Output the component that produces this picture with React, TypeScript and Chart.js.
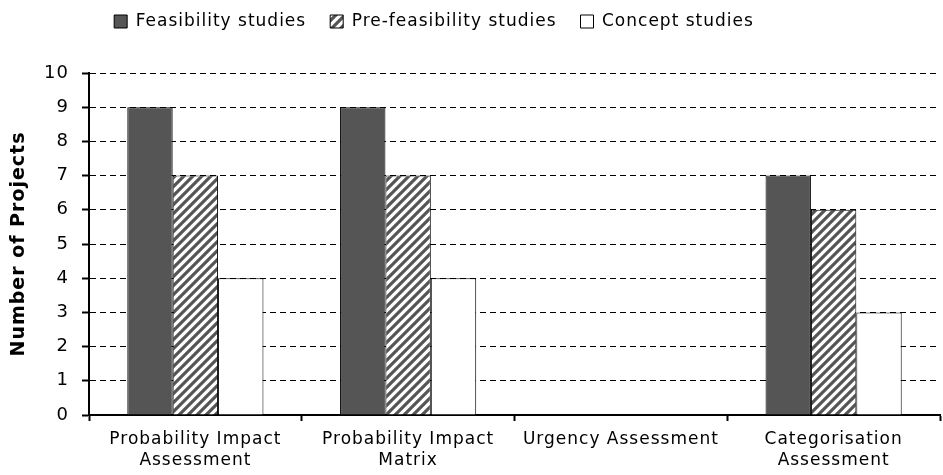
import React, { useEffect, useRef } from "react";
import { Chart, registerables } from "chart.js";

Chart.register(...registerables);

const categories: string[][] = [
  ["Probability Impact", "Assessment"],
  ["Probability Impact", "Matrix"],
  ["Urgency Assessment"],
  ["Categorisation", "Assessment"],
];
const feasibility = [9, 9, 0, 7];
const preFeasibility = [7, 7, 0, 6];
const concept = [4, 4, 0, 3];
const yTicks = [0, 1, 2, 3, 4, 5, 6, 7, 8, 9, 10];

const FONT = "'DejaVu Sans', sans-serif";

function makeHatch(): CanvasPattern | string {
  const n = 9;
  const c = document.createElement("canvas");
  c.width = n;
  c.height = n;
  const ctx = c.getContext("2d");
  if (!ctx) return "#888";
  ctx.fillStyle = "#ffffff";
  ctx.fillRect(0, 0, n, n);
  ctx.strokeStyle = "#555555";
  ctx.lineWidth = 3.2;
  ctx.beginPath();
  for (const o of [-n, 0, n]) {
    ctx.moveTo(o - 2, n + 2);
    ctx.lineTo(o + n + 2, -2);
  }
  ctx.stroke();
  const p = ctx.createPattern(c, "repeat");
  return p || "#888";
}

const spacingPlugin = {
  id: "spacing",
  beforeUpdate(chart: any) {
    try { chart.ctx.letterSpacing = "1px"; } catch (e) {}
  },
  beforeDraw(chart: any) {
    try { chart.ctx.letterSpacing = "1px"; } catch (e) {}
  },
  afterLayout(chart: any) {
    const l = chart.legend;
    if (l) {
      l.top -= 33;
      l.bottom -= 33;
      l.left -= 36;
      l.right -= 36;
    }
  },
};

export default function App() {
  const ref = useRef<HTMLCanvasElement>(null);
  useEffect(() => {
    document.body.style.margin = "0";
    if (!ref.current) return;
    const hatch = makeHatch();
    const chart = new Chart(ref.current, {
      type: "bar",
      plugins: [spacingPlugin],
      data: {
        labels: categories,
        datasets: [
          {
            label: "Feasibility studies",
            data: feasibility,
            backgroundColor: "#555555",
            borderColor: "#000000",
            borderWidth: 1,
          },
          {
            label: "Pre-feasibility studies",
            data: preFeasibility,
            backgroundColor: hatch as any,
            borderColor: "#000000",
            borderWidth: 1,
          },
          {
            label: "Concept studies",
            data: concept,
            backgroundColor: "#ffffff",
            borderColor: "#000000",
            borderWidth: 1,
          },
        ],
      },
      options: {
        animation: false,
        responsive: false,
        maintainAspectRatio: false,
        datasets: {
          bar: { categoryPercentage: 0.64, barPercentage: 1.0 },
        },
        layout: { padding: { left: 0, right: 3, top: 22, bottom: 0 } },
        plugins: {
          legend: {
            position: "top",
            labels: {
              boxWidth: 13,
              boxHeight: 13,
              padding: 24,
              color: "#000",
              font: { family: FONT, size: 17 },
            },
          },
          tooltip: { enabled: false },
        },
        scales: {
          x: {
            afterFit: (s: any) => {
              s.height = 60;
            },
            grid: {
              display: true,
              drawOnChartArea: false,
              drawTicks: true,
              tickLength: 6,
              tickColor: "#000",
              tickWidth: 2,
              offset: true,
            },
            border: { display: true, color: "#000", width: 2 },
            ticks: {
              color: "#000",
              font: { family: FONT, size: 17, lineHeight: 1.25 },
              maxRotation: 0,
              autoSkip: false,
              padding: 8,
            },
          },
          y: {
            min: 0,
            max: 10,
            afterFit: (s: any) => {
              s.width = 89;
            },
            afterBuildTicks: (s: any) => {
              s.ticks = yTicks.map((v) => ({ value: v }));
            },
            grid: {
              color: "#000",
              lineWidth: 1,
              drawTicks: true,
              tickLength: 7,
              tickColor: "#000",
              tickWidth: 2,
              tickBorderDash: [],
            },
            border: { display: true, color: "#000", width: 2, dash: [6, 4] },
            ticks: {
              color: "#000",
              font: { family: FONT, size: 18 },
              padding: 13,
            },
            title: {
              display: true,
              text: "Number of Projects",
              color: "#000",
              font: { family: FONT, size: 19, weight: "bold" },
              padding: { top: 8, bottom: 0 },
            },
          },
        },
      },
    });
    return () => chart.destroy();
  }, []);
  return <canvas ref={ref} width={943} height={475} style={{ display: "block" }} />;
}
